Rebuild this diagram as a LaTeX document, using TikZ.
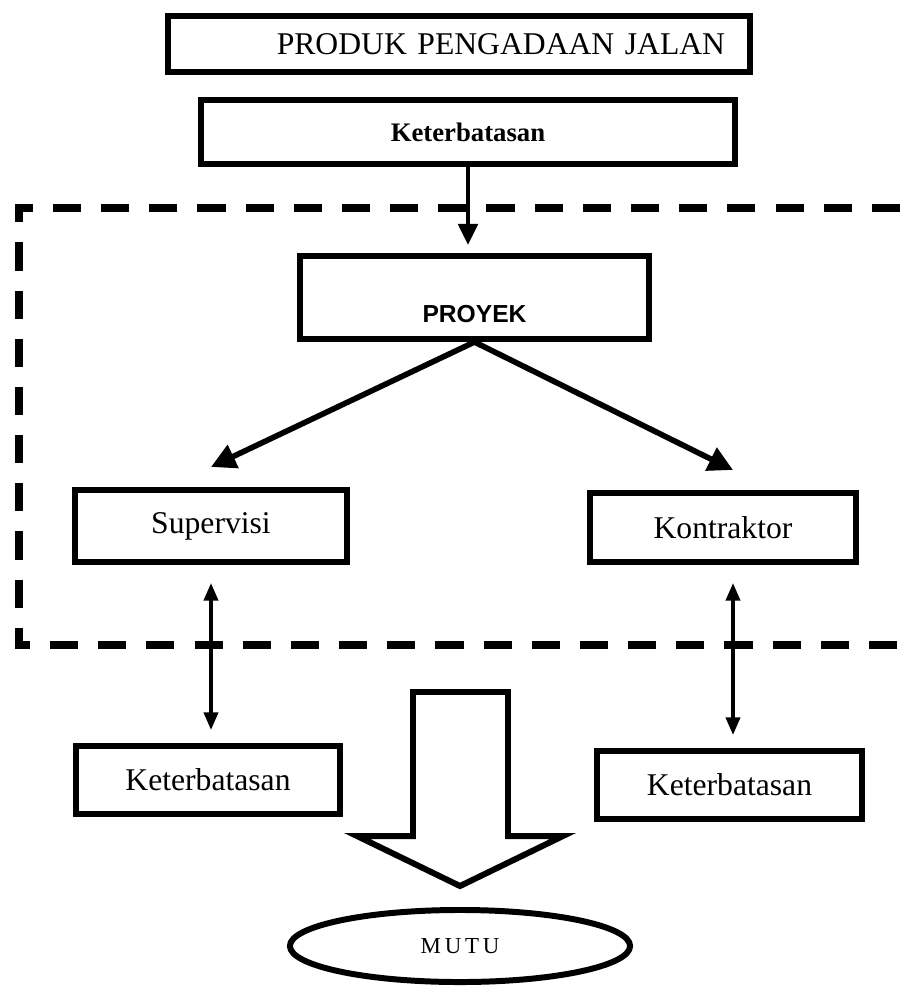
\documentclass[tikz,border=0pt]{standalone}
\usepackage{fontspec}
\setmainfont{Liberation Serif}
\setsansfont{Liberation Sans}
\usetikzlibrary{arrows.meta,shapes.geometric}
\tikzset{
  box/.style   ={draw=black, line width=1.7pt, inner sep=0pt, align=center,
                 font=\fontsize{9}{11}\selectfont},
  tbox/.style  ={box, font=\fontsize{9}{11}\selectfont},
  bbox/.style  ={box, font=\fontsize{7.6}{9}\selectfont\bfseries},
  oval/.style  ={ellipse, draw=black, line width=1.7pt, inner sep=0pt,
                 font=\fontsize{6.5}{8}\selectfont},
  flow/.style  ={-{Triangle[length=6pt,width=5.5pt]}, line width=1.2pt},
  sflow/.style ={-{Triangle[length=7pt,width=7pt]}, line width=1.6pt},
  dflow/.style ={{Triangle[length=5pt,width=4pt]}-{Triangle[length=5pt,width=4pt]}, line width=1pt},
  frame/.style ={line width=2pt, dash pattern=on 8pt off 5.7pt},
  hollow/.style={draw=black, line width=1.7pt, line join=miter, fill=white},
}
\begin{document}
\begin{tikzpicture}[x=0.01cm, y=-0.01cm]
  \useasboundingbox (0,0) rectangle (900,1006);
  % project boundary
  \draw[frame] (900,208) -- (19,208) -- (19,645) -- (900,645);
  \node[tbox, minimum width=5.82cm, minimum height=0.56cm, text width=5.32cm,
        align=right, inner xsep=0.25cm] (produk) at (459,44) {PRODUK PENGADAAN JALAN};
  \node[bbox, minimum width=5.34cm, minimum height=0.64cm] (ket1) at (468,132) {Keterbatasan};
  \node[box, minimum width=3.49cm, minimum height=0.83cm] (proyek) at (474.5,297.5) {};
  \node[font=\sffamily\bfseries\fontsize{7}{8}\selectfont] (proyektxt)
        at ([yshift=-0.17cm]proyek.center) {PROYEK};
  \node[box, minimum width=2.72cm, minimum height=0.72cm] (super) at (211,526) {Supervisi};
  \node[box, minimum width=2.66cm, minimum height=0.69cm] (kontr) at (723,527.5) {Kontraktor};
  \node[box, minimum width=2.64cm, minimum height=0.68cm] (ketL) at (208,780) {Keterbatasan};
  \node[box, minimum width=2.65cm, minimum height=0.68cm] (ketR) at (729.5,785) {Keterbatasan};
  \node[oval, minimum width=3.4cm, minimum height=0.72cm] (mutu) at (460,946) {M\,U\,T\,U};
  % connectors
  \draw[flow, shorten >=0.08cm] (ket1.south) -- (ket1.south |- proyek.north);
  \draw[sflow] (proyek.south) -- ([yshift=0.2cm]super.north);
  \draw[sflow] (proyek.south) -- ([xshift=0.1cm,yshift=0.2cm]kontr.north);
  \draw[dflow, shorten <=0.18cm, shorten >=0.13cm] (super.south) -- (super.south |- ketL.north);
  \draw[dflow, shorten <=0.18cm, shorten >=0.13cm] ([xshift=0.1cm]kontr.south) -- ([xshift=0.1cm]kontr.south |- ketR.north);
  % big arrow to quality
  \draw[hollow] (413,692) -- (508,692) -- (508,836) -- (563,836) -- (460,886)
        -- (357,836) -- (413,836) -- cycle;
\end{tikzpicture}
\end{document}
